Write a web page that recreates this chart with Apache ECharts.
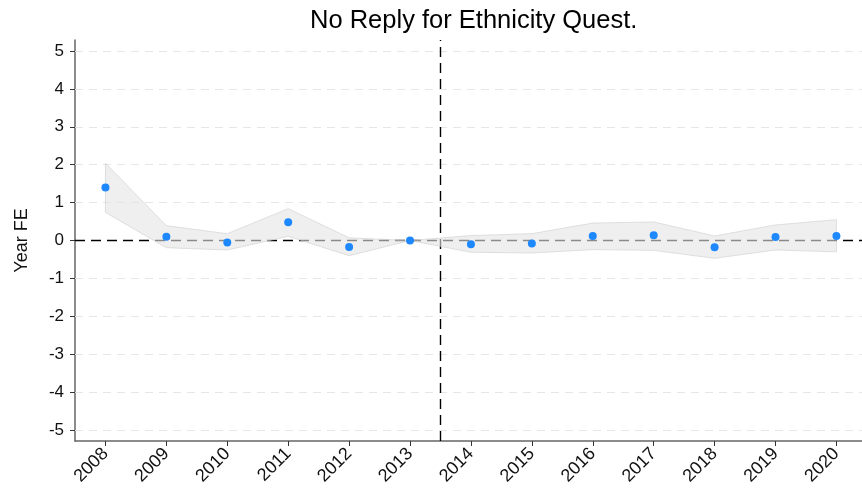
<!DOCTYPE html>
<html>
<head>
<meta charset="utf-8">
<script src="https://cdn.jsdelivr.net/npm/echarts@6/dist/echarts.min.js"></script>
<style>
  html, body { margin: 0; padding: 0; background: #fff; }
  #chart { width: 862px; height: 491px; }
</style>
</head>
<body>
<div id="chart"></div>
<script>
// Event-study year fixed effects with 95% confidence band
const years = [2008, 2009, 2010, 2011, 2012, 2013, 2014, 2015, 2016, 2017, 2018, 2019, 2020];
const estimates = [1.40, 0.10, -0.05, 0.48, -0.17, 0.00, -0.10, -0.08, 0.12, 0.14, -0.18, 0.09, 0.12];
const ciLower = [0.74, -0.19, -0.25, 0.11, -0.40, 0.00, -0.31, -0.33, -0.24, -0.26, -0.47, -0.25, -0.30];
const ciUpper = [2.04, 0.39, 0.18, 0.84, 0.07, 0.00, 0.13, 0.18, 0.46, 0.49, 0.12, 0.41, 0.55];
const yTicks = [-5, -4, -3, -2, -1, 0, 1, 2, 3, 4, 5];
const cutoffYear = 2013.5;

const font = 'Liberation Sans, Arial, sans-serif';
const chart = echarts.init(document.getElementById('chart'));

const gridLines = yTicks.filter(v => v !== 0).map(v => ({ yAxis: v }));

chart.setOption({
  animation: false,
  title: {
    text: 'No Reply for Ethnicity Quest.',
    left: 305,
    top: 3,
    textStyle: { fontFamily: font, fontSize: 25.5, fontWeight: 'normal', color: '#000' }
  },
  grid: { left: 75, right: 0, top: 40, bottom: 50 },
  xAxis: {
    type: 'value',
    min: 2007.5,
    max: 2020.42,
    axisLine: { show: true, onZero: false, lineStyle: { color: '#666', width: 1.5 } },
    axisTick: { show: true, customValues: years, length: 5, lineStyle: { color: '#333' } },
    axisLabel: {
      customValues: years, rotate: 45, margin: 10,
      fontFamily: font, fontSize: 18, color: '#111',
      formatter: v => String(v)
    },
    splitLine: { show: false }
  },
  yAxis: {
    type: 'value',
    min: -5.29,
    max: 5.29,
    name: 'Year FE',
    nameLocation: 'middle',
    nameGap: 44,
    nameTextStyle: { fontFamily: font, fontSize: 18, color: '#111' },
    axisLine: { show: true, onZero: false, lineStyle: { color: '#666', width: 1.5 } },
    axisTick: { show: true, customValues: yTicks, length: 5, lineStyle: { color: '#333' } },
    axisLabel: {
      customValues: yTicks, margin: 11,
      fontFamily: font, fontSize: 17, color: '#111'
    },
    splitLine: { show: false }
  },
  series: [
    {
      // reference lines: grid, zero line and treatment cutoff
      type: 'line',
      data: [],
      z: 1,
      silent: true,
      markLine: {
        symbol: 'none',
        silent: true,
        label: { show: false },
        data: [
          ...gridLines.map(d => ({ ...d, lineStyle: { color: '#e6e6e6', type: [8, 6], width: 1 } })),
          { yAxis: 0, lineStyle: { color: '#000', type: [10, 6], width: 1.4 } },
          { xAxis: cutoffYear, lineStyle: { color: '#000', type: [10, 6], width: 1.4 } }
        ]
      }
    },
    {
      // confidence band polygon, drawn over the zero line
      type: 'custom',
      z: 5,
      silent: true,
      data: years.map((y, i) => [y, ciLower[i], ciUpper[i]]),
      encode: { x: 0, y: [1, 2] },
      renderItem: function (params, api) {
        if (params.dataIndex !== 0) return null;
        const upper = years.map((y, i) => api.coord([y, ciUpper[i]]));
        const lower = years.map((y, i) => api.coord([y, ciLower[i]])).reverse();
        return {
          type: 'polygon',
          shape: { points: upper.concat(lower) },
          style: { fill: 'rgba(228,228,228,0.6)', stroke: 'rgba(205,205,205,0.6)', lineWidth: 1 }
        };
      }
    },
    {
      type: 'scatter',
      z: 6,
      symbol: 'circle',
      symbolSize: 8,
      itemStyle: { color: '#1E88FF', opacity: 1 },
      data: years.map((y, i) => [y, estimates[i]])
    }
  ]
});
</script>
</body>
</html>
